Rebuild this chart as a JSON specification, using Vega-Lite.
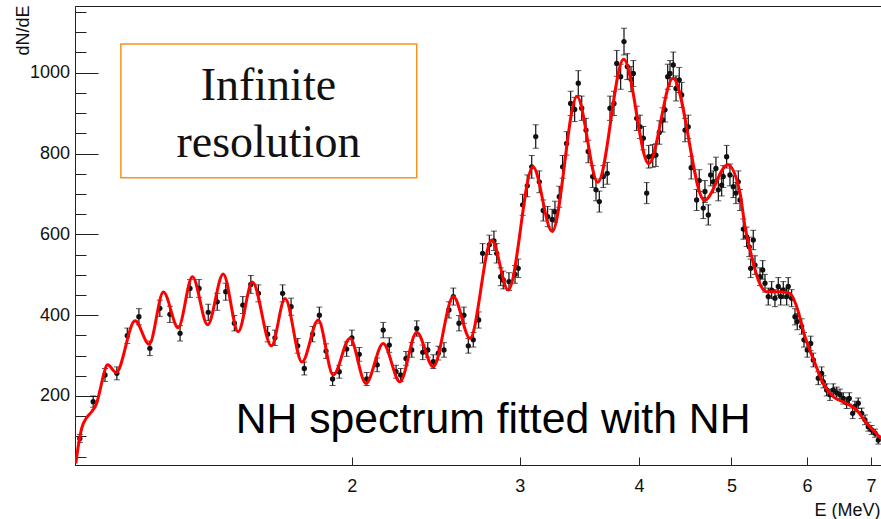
{
  "$schema": "https://vega.github.io/schema/vega-lite/v6.json",
  "width": 806,
  "height": 459,
  "autosize": {"type": "none"},
  "padding": {"left": 75, "top": 6, "right": 0, "bottom": 54},
  "background": "white",
  "config": {
    "view": {"stroke": "#222", "strokeWidth": 1},
    "axis": {
      "labelFont": "Liberation Sans", "titleFont": "Liberation Sans",
      "labelColor": "#111", "titleColor": "#111",
      "domainColor": "#222", "tickColor": "#222", "grid": false,
      "labelFontSize": 18, "titleFontSize": 18, "titleFontWeight": "normal"
    }
  },
  "datasets": {
    "box": [{"x1": 1.146, "x2": 2.34, "y1": 1071, "y2": 740}],
    "pts": [
      {"E":1.038,"N":95,"err":10},{"E":1.072,"N":186,"err":14},{"E":1.103,"N":252,"err":16},{"E":1.135,"N":256,"err":16},
      {"E":1.164,"N":349,"err":19},{"E":1.197,"N":396,"err":20},{"E":1.229,"N":318,"err":18},{"E":1.259,"N":417,"err":20},
      {"E":1.290,"N":402,"err":20},{"E":1.322,"N":355,"err":19},{"E":1.354,"N":466,"err":22},{"E":1.384,"N":466,"err":22},
      {"E":1.415,"N":407,"err":20},{"E":1.446,"N":433,"err":21},{"E":1.476,"N":458,"err":21},{"E":1.507,"N":380,"err":19},
      {"E":1.538,"N":425,"err":21},{"E":1.568,"N":476,"err":22},{"E":1.597,"N":454,"err":21},{"E":1.633,"N":353,"err":19},
      {"E":1.662,"N":344,"err":19},{"E":1.693,"N":454,"err":21},{"E":1.728,"N":421,"err":21},{"E":1.756,"N":324,"err":18},
      {"E":1.784,"N":268,"err":16},{"E":1.820,"N":353,"err":19},{"E":1.850,"N":400,"err":20},{"E":1.880,"N":311,"err":18},
      {"E":1.910,"N":242,"err":16},{"E":1.941,"N":260,"err":16},{"E":1.976,"N":316,"err":18},{"E":2.001,"N":344,"err":19},
      {"E":2.037,"N":303,"err":17},{"E":2.074,"N":242,"err":16},{"E":2.127,"N":277,"err":17},{"E":2.158,"N":363,"err":19},
      {"E":2.190,"N":326,"err":18},{"E":2.226,"N":260,"err":16},{"E":2.251,"N":252,"err":16},{"E":2.280,"N":293,"err":17},
      {"E":2.312,"N":314,"err":18},{"E":2.340,"N":367,"err":19},{"E":2.374,"N":308,"err":18},{"E":2.403,"N":314,"err":18},
      {"E":2.435,"N":285,"err":17},{"E":2.465,"N":306,"err":17},{"E":2.499,"N":314,"err":18},{"E":2.529,"N":413,"err":20},
      {"E":2.556,"N":446,"err":21},{"E":2.591,"N":380,"err":19},{"E":2.622,"N":400,"err":20},{"E":2.650,"N":324,"err":18},
      {"E":2.682,"N":339,"err":18},{"E":2.717,"N":388,"err":20},{"E":2.743,"N":553,"err":24},{"E":2.788,"N":574,"err":24},
      {"E":2.819,"N":584,"err":24},{"E":2.838,"N":553,"err":24},{"E":2.865,"N":495,"err":22},{"E":2.883,"N":487,"err":22},
      {"E":2.923,"N":483,"err":22},{"E":2.966,"N":501,"err":22},{"E":2.989,"N":516,"err":23},{"E":3.021,"N":673,"err":26},
      {"E":3.055,"N":720,"err":27},{"E":3.088,"N":767,"err":28},{"E":3.118,"N":842,"err":29},{"E":3.145,"N":730,"err":27},
      {"E":3.175,"N":659,"err":26},{"E":3.209,"N":644,"err":25},{"E":3.244,"N":637,"err":25},{"E":3.266,"N":656,"err":26},
      {"E":3.300,"N":693,"err":26},{"E":3.327,"N":767,"err":28},{"E":3.359,"N":825,"err":29},{"E":3.392,"N":924,"err":30},
      {"E":3.425,"N":909,"err":30},{"E":3.455,"N":974,"err":31},{"E":3.484,"N":912,"err":30},{"E":3.520,"N":858,"err":29},
      {"E":3.539,"N":805,"err":28},{"E":3.577,"N":743,"err":27},{"E":3.606,"N":710,"err":27},{"E":3.635,"N":681,"err":26},
      {"E":3.670,"N":743,"err":27},{"E":3.705,"N":751,"err":27},{"E":3.730,"N":912,"err":30},{"E":3.766,"N":924,"err":30},
      {"E":3.791,"N":1023,"err":32},{"E":3.827,"N":990,"err":31},{"E":3.858,"N":1077,"err":33},{"E":3.889,"N":1015,"err":32},
      {"E":3.924,"N":984,"err":31},{"E":3.946,"N":998,"err":32},{"E":3.978,"N":887,"err":30},{"E":4.010,"N":866,"err":29},
      {"E":4.042,"N":838,"err":29},{"E":4.075,"N":702,"err":26},{"E":4.095,"N":792,"err":28},{"E":4.135,"N":794,"err":28},
      {"E":4.167,"N":796,"err":28},{"E":4.201,"N":852,"err":29},{"E":4.235,"N":883,"err":30},{"E":4.259,"N":908,"err":30},
      {"E":4.287,"N":990,"err":31},{"E":4.311,"N":998,"err":32},{"E":4.345,"N":1019,"err":32},{"E":4.374,"N":961,"err":31},
      {"E":4.408,"N":982,"err":31},{"E":4.434,"N":945,"err":31},{"E":4.470,"N":858,"err":29},{"E":4.505,"N":866,"err":29},
      {"E":4.537,"N":765,"err":28},{"E":4.597,"N":685,"err":26},{"E":4.626,"N":733,"err":27},{"E":4.671,"N":665,"err":26},
      {"E":4.690,"N":706,"err":27},{"E":4.728,"N":648,"err":25},{"E":4.755,"N":747,"err":27},{"E":4.785,"N":730,"err":27},
      {"E":4.816,"N":763,"err":28},{"E":4.844,"N":710,"err":27},{"E":4.883,"N":722,"err":27},{"E":4.902,"N":743,"err":27},
      {"E":4.942,"N":792,"err":28},{"E":4.982,"N":747,"err":27},{"E":5.022,"N":718,"err":27},{"E":5.054,"N":702,"err":26},
      {"E":5.083,"N":730,"err":27},{"E":5.104,"N":685,"err":26},{"E":5.145,"N":613,"err":25},{"E":5.186,"N":594,"err":24},
      {"E":5.219,"N":569,"err":24},{"E":5.237,"N":516,"err":23},{"E":5.270,"N":586,"err":24},{"E":5.292,"N":524,"err":23},
      {"E":5.356,"N":495,"err":22},{"E":5.391,"N":512,"err":23},{"E":5.421,"N":479,"err":22},{"E":5.464,"N":446,"err":21},
      {"E":5.509,"N":462,"err":21},{"E":5.553,"N":442,"err":21},{"E":5.598,"N":471,"err":22},{"E":5.630,"N":446,"err":21},
      {"E":5.666,"N":462,"err":21},{"E":5.712,"N":446,"err":21},{"E":5.734,"N":471,"err":22},{"E":5.781,"N":442,"err":21},
      {"E":5.828,"N":396,"err":20},{"E":5.860,"N":384,"err":20},{"E":5.922,"N":372,"err":19},{"E":5.956,"N":339,"err":18},
      {"E":6.003,"N":314,"err":18},{"E":6.053,"N":330,"err":18},{"E":6.091,"N":289,"err":17},{"E":6.165,"N":244,"err":16},
      {"E":6.215,"N":256,"err":16},{"E":6.240,"N":235,"err":15},{"E":6.291,"N":215,"err":15},{"E":6.342,"N":203,"err":14},
      {"E":6.392,"N":215,"err":15},{"E":6.445,"N":208,"err":14},{"E":6.496,"N":203,"err":14},{"E":6.548,"N":194,"err":14},
      {"E":6.602,"N":183,"err":14},{"E":6.644,"N":194,"err":14},{"E":6.698,"N":157,"err":13},{"E":6.735,"N":174,"err":13},
      {"E":6.789,"N":182,"err":13},{"E":6.845,"N":157,"err":13},{"E":6.900,"N":141,"err":12},{"E":6.955,"N":124,"err":11},
      {"E":7.012,"N":116,"err":11},{"E":7.069,"N":108,"err":10},{"E":7.125,"N":91,"err":10}
    ],
    "fit": [
      {"E":1.028,"N":33},{"E":1.034,"N":75},{"E":1.043,"N":121},{"E":1.055,"N":146},{"E":1.068,"N":161},
      {"E":1.081,"N":182},{"E":1.090,"N":215},{"E":1.098,"N":248},{"E":1.110,"N":277},{"E":1.133,"N":258},
      {"E":1.186,"N":386},{"E":1.227,"N":328},{"E":1.270,"N":457},{"E":1.316,"N":369},{"E":1.362,"N":495},
      {"E":1.413,"N":376},{"E":1.467,"N":502},{"E":1.521,"N":359},{"E":1.574,"N":482},{"E":1.648,"N":324},
      {"E":1.703,"N":441},{"E":1.774,"N":284},{"E":1.845,"N":388},{"E":1.913,"N":252},{"E":1.992,"N":343},
      {"E":2.070,"N":231},{"E":2.158,"N":330},{"E":2.247,"N":235},{"E":2.340,"N":358},{"E":2.435,"N":272},
      {"E":2.556,"N":446},{"E":2.661,"N":343},{"E":2.804,"N":586},{"E":2.918,"N":462},{"E":3.097,"N":767},
      {"E":3.244,"N":607},{"E":3.444,"N":941},{"E":3.622,"N":729},{"E":3.855,"N":1033},{"E":4.095,"N":775},
      {"E":4.342,"N":986},{"E":4.685,"N":684},{"E":4.956,"N":772},{"E":5.104,"N":702},{"E":5.166,"N":619},
      {"E":5.250,"N":545},{"E":5.334,"N":487},{"E":5.443,"N":458},{"E":5.621,"N":458},{"E":5.758,"N":454},
      {"E":5.852,"N":421},{"E":5.970,"N":347},{"E":6.116,"N":281},{"E":6.240,"N":231},{"E":6.392,"N":198},
      {"E":6.602,"N":182},{"E":6.763,"N":165},{"E":6.928,"N":133},{"E":7.172,"N":95}
    ],
    "note": [{"E": 1.512, "N": 108, "t": "NH spectrum fitted with NH"}],
    "boxtext": [{"E": 1.636, "N": 932, "t": "Infinite"}, {"E": 1.636, "N": 792, "t": "resolution"}]
  },
  "layer": [
    {
      "data": {"name": "box"},
      "mark": {"type": "rect", "fill": "white", "stroke": "#F7941D", "strokeWidth": 1.5},
      "encoding": {
        "x": {"field": "x1", "type": "quantitative", "scale": {"type": "log", "domain": [1.026, 7.172], "nice": false}, "axis": null},
        "x2": {"field": "x2"},
        "y": {"field": "y1", "type": "quantitative", "scale": {"domain": [29.2, 1165], "nice": false, "zero": false},
              "axis": {"orient": "left", "values": [50,100,150,200,250,300,350,400,450,500,550,600,650,700,750,800,850,900,950,1000,1050,1100,1150],
                       "labels": false, "domain": false, "tickSize": -11, "title": null}},
        "y2": {"field": "y2"}
      }
    },
    {
      "data": {"name": "pts"},
      "mark": {"type": "errorbar", "ticks": {"size": 6, "color": "#111", "strokeWidth": 1.2}, "rule": {"color": "#111", "strokeWidth": 1.2}},
      "encoding": {
        "x": {"field": "E", "type": "quantitative", "scale": {"type": "log", "domain": [1.026, 7.172], "nice": false}, "axis": null},
        "y": {"field": "N", "type": "quantitative", "scale": {"domain": [29.2, 1165], "nice": false, "zero": false}, "axis": null},
        "yError": {"field": "err"}
      }
    },
    {
      "data": {"name": "pts"},
      "mark": {"type": "circle", "size": 28, "color": "#111", "opacity": 1},
      "encoding": {
        "x": {"field": "E", "type": "quantitative", "scale": {"type": "log", "domain": [1.026, 7.172], "nice": false}, "axis": null},
        "y": {"field": "N", "type": "quantitative", "scale": {"domain": [29.2, 1165], "nice": false, "zero": false}, "axis": null}
      }
    },
    {
      "data": {"name": "fit"},
      "mark": {"type": "line", "color": "#ff0000", "strokeWidth": 3, "interpolate": "monotone", "clip": true},
      "encoding": {
        "x": {"field": "E", "type": "quantitative", "scale": {"type": "log", "domain": [1.026, 7.172], "nice": false},
              "axis": {"orient": "bottom", "values": [2,3,4,5,6,7], "format": "d", "tickSize": -8, "labelPadding": 20, "labelFlush": false,
                       "title": "E (MeV)", "titleAlign": "right", "titleX": 805, "titleY": 50, "titleBaseline": "alphabetic"}},
        "y": {"field": "N", "type": "quantitative", "scale": {"domain": [29.2, 1165], "nice": false, "zero": false},
              "axis": {"orient": "left", "values": [200,400,600,800,1000], "format": "d", "tickSize": -23, "labelPadding": 28.5,
                       "title": "dN/dE", "titleAngle": -90, "titleAlign": "right", "titleBaseline": "alphabetic", "titleX": -47, "titleY": -1}}
      }
    },
    {
      "data": {"name": "note"},
      "mark": {"type": "text", "align": "left", "baseline": "alphabetic", "font": "Liberation Sans", "fontSize": 42.7, "color": "#000"},
      "encoding": {
        "x": {"field": "E", "type": "quantitative", "scale": {"type": "log", "domain": [1.026, 7.172], "nice": false}, "axis": null},
        "y": {"field": "N", "type": "quantitative", "scale": {"domain": [29.2, 1165], "nice": false, "zero": false}, "axis": null},
        "text": {"field": "t"}
      }
    },
    {
      "data": {"name": "boxtext"},
      "mark": {"type": "text", "align": "center", "baseline": "alphabetic", "font": "Liberation Serif", "fontSize": 46, "color": "#111"},
      "encoding": {
        "x": {"field": "E", "type": "quantitative", "scale": {"type": "log", "domain": [1.026, 7.172], "nice": false}, "axis": null},
        "y": {"field": "N", "type": "quantitative", "scale": {"domain": [29.2, 1165], "nice": false, "zero": false}, "axis": null},
        "text": {"field": "t"}
      }
    }
  ],
  "resolve": {"axis": {"x": "independent", "y": "independent"}}
}
